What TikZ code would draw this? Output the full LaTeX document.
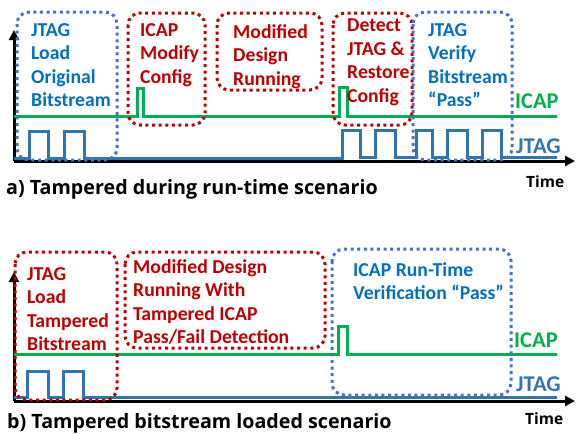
\documentclass[tikz,border=0pt]{standalone}
\usepackage{fontspec}
\setmainfont{Carlito}
\newfontfamily\capfont{Open Sans}
\usetikzlibrary{arrows.meta}
\definecolor{bluetext}{HTML}{0070C0}
\definecolor{bluebox}{HTML}{4472C4}
\definecolor{jtagc}{HTML}{2E75B6}
\definecolor{redc}{HTML}{C00000}
\definecolor{greenc}{HTML}{00B050}
\tikzset{
  axis/.style={line width=3pt, black, -{Triangle[length=10pt,width=10pt]}},
  jtagsig/.style={line width=3pt, jtagc},
  icapsig/.style={line width=3pt, greenc},
  dotbox/.style={line width=3pt, rounded corners=12pt, dash pattern=on 3pt off 3.6pt},
  bluedot/.style={dotbox, bluebox},
  reddot/.style={dotbox, redc},
  boxtext/.style={anchor=north west, inner sep=0pt, align=left, font=\bfseries\fontsize{19.7}{23.5}\selectfont},
  bluetxt/.style={boxtext, text=bluetext},
  redtxt/.style={boxtext, text=redc},
  siglabel/.style={anchor=base west, inner sep=0pt, font=\bfseries\fontsize{22.5}{24}\selectfont},
  timelabel/.style={anchor=base west, inner sep=0pt, font=\capfont\bfseries\fontsize{15.5}{18}\selectfont},
  caption/.style={anchor=base west, inner sep=0pt, font=\capfont\bfseries\fontsize{19.7}{22}\selectfont}
}
\begin{document}
\begin{tikzpicture}[x=1pt,y=-1pt]
\useasboundingbox (0,0) rectangle (576,434);
% ---------- panel a ----------
\coordinate (aO) at (14,161);
\coordinate (aY) at (14,30);
\coordinate (aX) at (575,161);
\draw[axis] (aO) -- (aY);
\draw[axis] (aO) -- (aX);
\draw[icapsig] (14,116) -- (137,116) -- (137,88) -- (143,88) -- (143,116) -- (339,116) -- (339,87) -- (347,87) -- (347,116) -- (557,116);
\draw[jtagsig] (14,158) -- (29,158) -- (29,131) -- (48,131) -- (48,158) -- (64,158) -- (64,131) -- (84,131) -- (84,158)
  -- (342,158) -- (342,130) -- (360,130) -- (360,157) -- (375,157) -- (375,130) -- (395,130) -- (395,157)
  -- (416,157) -- (416,130) -- (432,130) -- (432,157) -- (447,157) -- (447,130) -- (467,130) -- (467,157)
  -- (482,157) -- (482,130) -- (501,130) -- (501,157) -- (557,157);
\draw[bluedot] (17,12) rectangle (117,160);
\draw[reddot] (128,13) rectangle (205,125);
\draw[reddot] (217,13) rectangle (322,90);
\draw[reddot] (333,13) rectangle (412,125);
\draw[bluedot] (413,12) rectangle (512,160);
\node[bluetxt] (a1) at (31,23) {JTAG\\Load\\Original\\Bitstream};
\node[redtxt] (a2) at (140,23) {ICAP\\Modify\\Config};
\node[redtxt] (a3) at (233,24) {Modified\\Design\\Running};
\node[redtxt] (a4) at (347,19) {Detect\\JTAG \&\\Restore\\Config};
\node[bluetxt] (a5) at (428,23) {JTAG\\Verify\\Bitstream\\“Pass”};
\node[siglabel, text=greenc] (aicap) at (515,108) {ICAP};
\node[siglabel, text=jtagc] (ajtag) at (516,153) {JTAG};
\node[timelabel] (atime) at (526,187) {Time};
\node[caption] (acap) at (6,194) {a) Tampered during run-time scenario};
% ---------- panel b ----------
\coordinate (bO) at (14,401);
\coordinate (bY) at (14,272);
\coordinate (bX) at (575,401);
\draw[axis] (bO) -- (bY);
\draw[axis] (bO) -- (bX);
\draw[icapsig] (14,354) -- (338,354) -- (338,326) -- (347,326) -- (347,354) -- (557,354);
\draw[jtagsig] (14,397) -- (27,397) -- (27,371) -- (48,371) -- (48,397) -- (63,397) -- (63,371) -- (83,371) -- (83,397) -- (557,397);
\draw[reddot] (15,252) rectangle (117,400);
\draw[reddot] (125,252) rectangle (325,348);
\draw[bluedot] (332,249) rectangle (511,395);
\node[redtxt] (b1) at (27,267) {JTAG\\Load\\Tampered\\Bitstream};
\node[redtxt] (b2) at (133,259) {Modified Design\\Running With\\Tampered ICAP\\Pass/Fail Detection};
\node[bluetxt] (b3) at (353,262) {ICAP Run-Time\\Verification “Pass”};
\node[siglabel, text=greenc] (bicap) at (514,347) {ICAP};
\node[siglabel, text=jtagc] (bjtag) at (516,391) {JTAG};
\node[timelabel] (btime) at (525,424) {Time};
\node[caption] (bcap) at (7,428) {b) Tampered bitstream loaded scenario};
\end{tikzpicture}
\end{document}
